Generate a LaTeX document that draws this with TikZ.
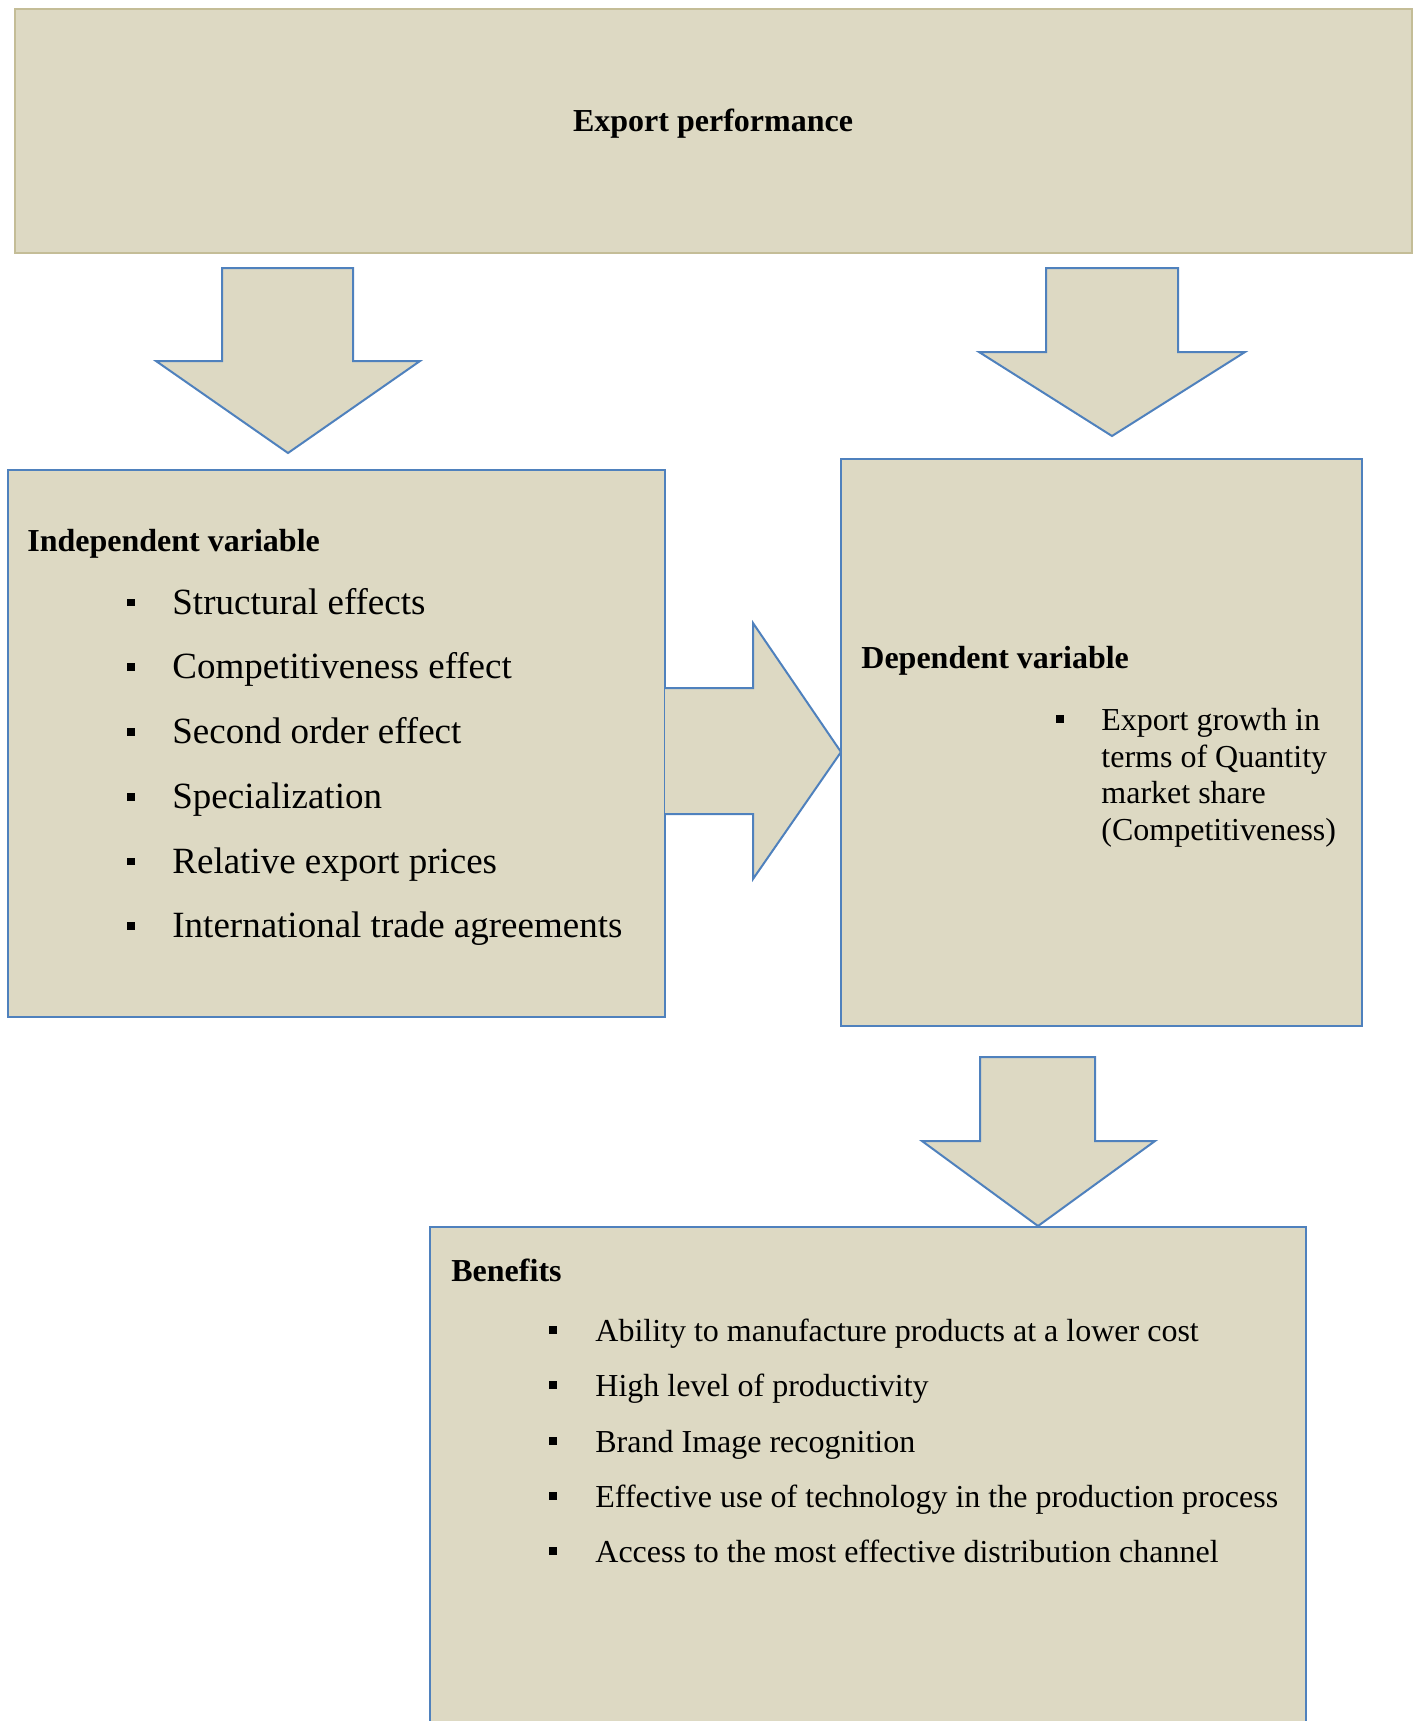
\documentclass[tikz,border=0pt]{standalone}
\usepackage{fontspec}
\setmainfont{Liberation Serif}
\definecolor{boxfill}{HTML}{DDD9C3}
\definecolor{topline}{HTML}{C4BD97}
\definecolor{blueline}{HTML}{4F81BD}
\tikzset{
  panel/.style={draw=blueline, fill=boxfill, line width=1pt},
  toppanel/.style={draw=topline, fill=boxfill, line width=1.2pt},
  blockarrow/.style={draw=blueline, fill=boxfill, line width=1pt, line join=miter},
  headtxt/.style={font=\fontsize{16}{19}\selectfont\bfseries, anchor=mid west, inner sep=0pt, yshift=-3.5pt},
  itemtxt/.style={font=\fontsize{16}{19}\selectfont, anchor=mid west, inner sep=0pt, yshift=-3.5pt},
  bigitemtxt/.style={font=\fontsize{18.5}{22}\selectfont, anchor=mid west, inner sep=0pt, yshift=-3.5pt},
  sqbullet/.style={rectangle, fill=black, draw=none, minimum size=3.8pt, inner sep=0pt},
}
\begin{document}
\begin{tikzpicture}[x=0.5pt,y=-0.5pt]
\useasboundingbox (0,0) rectangle (1419,1721);
\clip (0,0) rectangle (1419,1721);

% top box
\draw[toppanel] (15,9) rectangle (1412,253);
\node[headtxt, anchor=mid] (title) at (713,120) {Export performance};

% down arrow left
\draw[blockarrow] (222,268) -- (353,268) -- (353,361) -- (420,361) -- (288,453) -- (156,361) -- (222,361) -- cycle;
% down arrow right
\draw[blockarrow] (1046,268) -- (1178,268) -- (1178,352) -- (1245,352) -- (1112,436) -- (979,352) -- (1046,352) -- cycle;

% independent box
\draw[panel] (8,470) rectangle (665,1017);
\node[headtxt] (indep) at (27,540) {Independent variable};
\foreach \yy/\txt [count=\i] in {602.5/Structural effects, 667/Competitiveness effect, 732/Second order effect, 797/Specialization, 861.5/Relative export prices, 926/International trade agreements}{
  \node[sqbullet] (ib\i) at (131,\yy) {};
  \node[bigitemtxt] (it\i) at (172,\yy) {\txt};
}

% right block arrow
\draw[blockarrow] (665,688) -- (753,688) -- (753,623) -- (841,752) -- (753,879) -- (753,814) -- (665,814);

% dependent box
\draw[panel] (841,459) rectangle (1362,1026);
\node[headtxt] (dep) at (861,657) {Dependent variable};
\node[sqbullet] (db) at (1060,719) {};
\node[itemtxt] (dt1) at (1101,719) {Export growth in};
\node[itemtxt] (dt2) at (1101,755.5) {terms of Quantity};
\node[itemtxt] (dt3) at (1101,792) {market share};
\node[itemtxt] (dt4) at (1101,828.5) {(Competitiveness)};

% down arrow bottom
\draw[blockarrow] (980,1057) -- (1095,1057) -- (1095,1141) -- (1155,1141) -- (1038,1226) -- (922,1141) -- (980,1141) -- cycle;

% benefits box
\draw[panel] (430,1227) rectangle (1306,1760);
\node[headtxt] (ben) at (451,1270) {Benefits};
\foreach \yy/\txt [count=\i] in {1330/Ability to manufacture products at a lower cost, 1385/High level of productivity, 1441/Brand Image recognition, 1496/Effective use of technology in the production process, 1551/Access to the most effective distribution channel}{
  \node[sqbullet] (bb\i) at (553,\yy) {};
  \node[itemtxt] (bt\i) at (595,\yy) {\txt};
}
\end{tikzpicture}
\end{document}
